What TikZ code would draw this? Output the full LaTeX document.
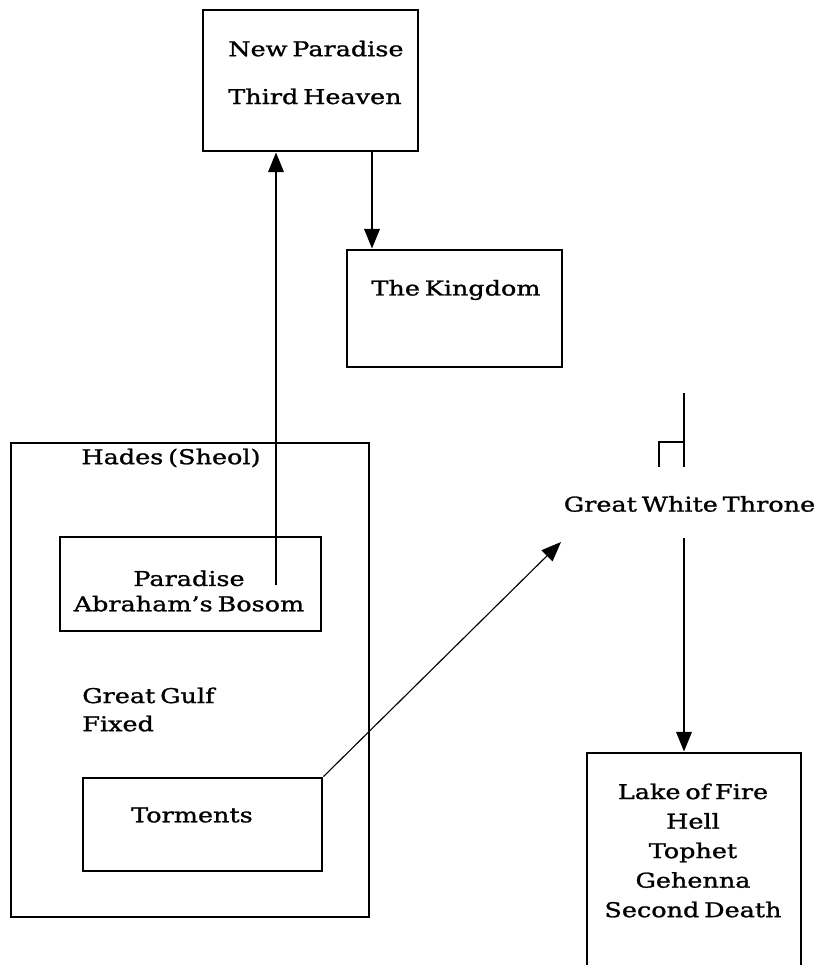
\documentclass[tikz,border=0pt]{standalone}
\usepackage{fontspec}
\setmainfont{DejaVu Serif}[FakeStretch=1.25, FakeBold=1.2, WordSpace=0.6]
\usetikzlibrary{arrows.meta}
\tikzset{
  box/.style={draw, line width=2pt},
  txt/.style={font=\fontsize{14.5}{18}\selectfont, inner sep=0pt},
  arr/.style={line width=1.5pt, -{Triangle[length=14pt,width=11pt]}}
}

\begin{document}
\begin{tikzpicture}[x=0.025cm, y=-0.025cm]
  \clip (0,0) rectangle (820,965);

  \node[box, minimum width=5.375cm, minimum height=3.525cm] (NP) at (310.5,80.5) {};
  \node[txt, anchor=west, align=left] (NPt) at (228,72.5) {New Paradise\\[16pt]Third Heaven};

  \node[box, minimum width=5.375cm, minimum height=2.925cm] (K) at (454.5,308.5) {};
  \node[txt] (Kt) at (456,290) {The Kingdom};

  \node[box, minimum width=8.95cm, minimum height=11.85cm] (H) at (190,680) {};
  \node[txt] (Ht) at (171,458) {Hades (Sheol)};

  \node[box, minimum width=6.525cm, minimum height=2.35cm] (P) at (190.5,584) {};
  \node[txt, align=center] (Pt) at (189,591) {Paradise\\Abraham’s Bosom};

  \node[txt, anchor=west, align=left] (G) at (82,709.5) {Great Gulf\\[2pt]Fixed};

  \node[box, minimum width=5.975cm, minimum height=2.325cm] (T) at (202.5,824.5) {};
  \node[txt] (Tt) at (192,815) {Torments};

  \node[txt] (GWT) at (689.5,504) {Great White Throne};
  \draw[line width=1.5pt] (684,393) -- (684,467) (659,467) -- (659,442) -- (684,442);

  \node[box, minimum width=5.35cm, minimum height=6.175cm] (L) at (694,876.5) {};
  \node[txt, align=center] (Lt) at (693,850.5) {Lake of Fire\\[3pt]Hell\\[3pt]Tophet\\[3pt]Gehenna\\[3pt]Second Death};

  \coordinate (p1) at (276,585);
  \coordinate (k1) at (372,0);
  \coordinate (t1) at (561,542);
  \coordinate (g1) at (684,538);

  \draw[arr] (p1) -- (p1 |- NP.south);
  \draw[arr] (k1 |- NP.south) -- (k1 |- K.north);
  \draw[arr, line width=.8pt] (T.north east) -- (t1);
  \draw[arr] (g1) -- (g1 |- L.north);
\end{tikzpicture}
\end{document}
